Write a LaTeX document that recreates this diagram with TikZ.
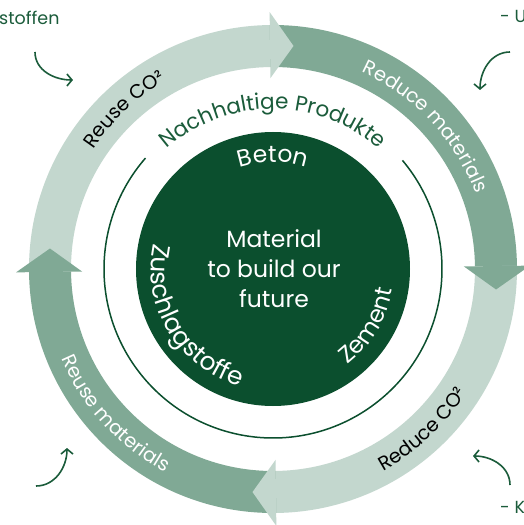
\documentclass[tikz,border=0pt]{standalone}
\usepackage{fontspec}
\setmainfont{Poppins}
\usetikzlibrary{decorations.text,arrows.meta}

\definecolor{darkgreen}{HTML}{0B4F2E}
\definecolor{textgreen}{HTML}{1B5C3B}
\definecolor{lightband}{HTML}{C3D7CE}
\definecolor{midband}{HTML}{80A995}

\newcommand{\ringfont}{\fontsize{19.5}{24}\selectfont}
\newcommand{\corefont}{\fontsize{23.5}{30}\selectfont}

\tikzset{
  corner/.style={text=textgreen, font=\fontsize{17.5}{20}\selectfont, inner sep=0pt, anchor=base west},
  hint/.style={draw=textgreen, line width=1.6pt, -{Straight Barb[length=5pt,width=12pt]}},
  ringtext/.style={decorate, decoration={text along path, text align=center, text={#1}}},
}

\begin{document}
\begin{tikzpicture}[x=1pt, y=1pt]
  \path[use as bounding box, fill=white] (-273,-256) rectangle (251,269);

  % Ring
  \foreach \a/\c in {180.75/lightband, 90.75/midband, 0.75/lightband, -89.25/midband}
    \fill[\c] (\a:244) arc[start angle=\a, end angle=\a-90, radius=244]
      -- (\a-90:202) arc[start angle=\a-90, end angle=\a, radius=202] -- cycle; %
  \foreach \b/\c in {90.75/lightband, 0.75/midband, -89.25/lightband, -179.25/midband}
    \fill[\c] (\b:257) -- (\b-6:224) -- (\b:191) -- cycle; %

  \path[ringtext={|\ringfont|Reuse CO²}] (175:216) arc[start angle=175, end angle=91, radius=216]; %
  \path[ringtext={|\ringfont\color{white}|Reduce materials}] (85:216) arc[start angle=85, end angle=1, radius=216]; %
  \path[ringtext={|\ringfont|Reduce CO²}] (-89:230) arc[start angle=-89, end angle=-5, radius=230]; %
  \path[ringtext={|\ringfont\color{white}|Reuse materials}] (-179.5:230) arc[start angle=-179.5, end angle=-95.5, radius=230]; %

  % Products
  \draw[darkgreen, line width=1.5pt] (40:169) arc[start angle=40, end angle=-221, radius=169]; %
  \path[ringtext={|\fontsize{21.5}{26}\selectfont\color{textgreen}|Nachhaltige Produkte}] (150:160) arc[start angle=150, end angle=30, radius=160]; %

  % Core
  \node[circle, fill=darkgreen, minimum size=274pt, inner sep=0pt] (core) at (0,0) {}; %
  \node[text=white, align=center, font=\corefont] (core-text) at (1,0) {Material\\to build our\\future}; %
  \path[ringtext={|\corefont\color{white}|Beton}] (130:107) arc[start angle=130, end angle=50, radius=107]; %
  \path[ringtext={|\fontsize{25}{30}\selectfont\color{white}|Zuschlagstoffe}] (150:122) arc[start angle=150, end angle=272, radius=122]; %
  \path[ringtext={|\corefont\color{white}|Zement}] (-80:121) arc[start angle=-80, end angle=18, radius=121]; %

  % Corners
  \node[corner] (stoffen) at (-274,244) {stoffen}; %
  \node[corner] (u-label) at (227,246) {- U}; %
  \node[corner] (k-label) at (227,-244) {- K}; %

  \coordinate (tl-a) at (-238,217); \coordinate (tl-b) at (-200,189);
  \coordinate (tr-a) at (237,217);  \coordinate (tr-b) at (207,179);
  \coordinate (br-a) at (237,-216); \coordinate (br-b) at (200,-187);
  \coordinate (bl-a) at (-237,-217); \coordinate (bl-b) at (-206,-179);
  \draw[hint] (tl-a) to[out=-90, in=180] (tl-b);
  \draw[hint] (tr-a) to[out=180, in=90] (tr-b);
  \draw[hint] (br-a) to[out=90, in=0] (br-b);
  \draw[hint] (bl-a) to[out=0, in=-90] (bl-b);
\end{tikzpicture}
\end{document}
